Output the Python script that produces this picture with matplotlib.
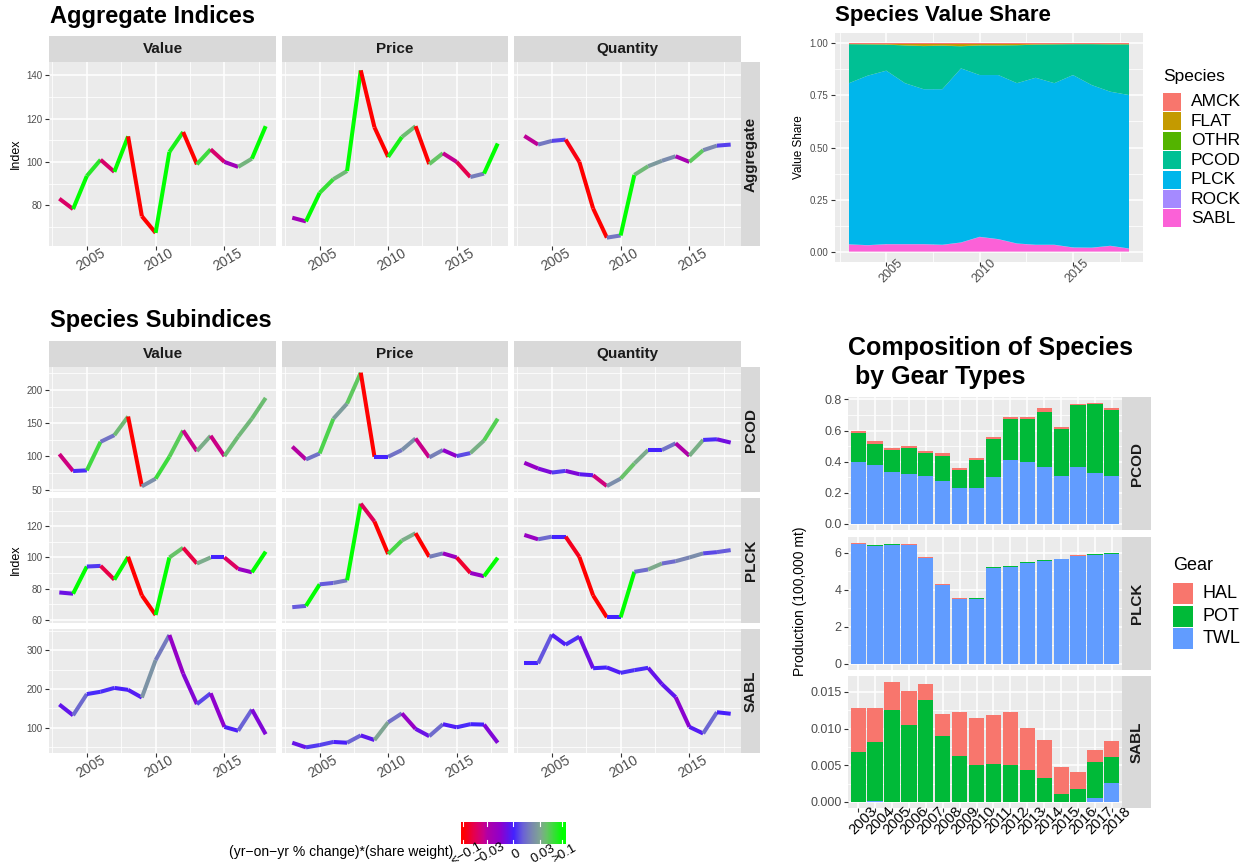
import numpy as np
import matplotlib
matplotlib.use("Agg")
import matplotlib.pyplot as plt
from matplotlib.collections import LineCollection
from matplotlib.patches import Rectangle
from matplotlib.colors import to_rgb
from matplotlib.ticker import FixedLocator

plt.rcParams['font.family'] = ['Liberation Sans', 'DejaVu Sans']

# ---- data ----
years = [2003, 2004, 2005, 2006, 2007, 2008, 2009, 2010,
         2011, 2012, 2013, 2014, 2015, 2016, 2017, 2018]

agg_value = [83, 78.2, 93.5, 101, 95.4, 111.8, 74.9, 67.2, 104.6, 113.8, 98.9, 105.8, 100, 97.7, 101.5, 116.5]
agg_price = [74.2, 72.5, 85.7, 92, 95.8, 142.3, 116, 102.3, 111.5, 116.5, 99, 104, 100, 93, 94.6, 108.5]
agg_quantity = [112, 108, 109.7, 110.3, 100, 78.5, 65, 66, 94, 98, 100.5, 102.6, 100, 105.4, 107.5, 108]

pcod_value = [103.5, 78, 79, 122, 132, 160, 55, 66.5, 99.5, 139, 108, 131, 100.5, 130, 157, 188]
pcod_price = [114.7, 95.4, 104.5, 156.7, 179.5, 226, 99.5, 99.5, 109.6, 127, 98.5, 109.6, 100.5, 105, 124, 156.7]
pcod_quantity = [90.4, 81.8, 75.7, 78.2, 73.2, 71.6, 55.4, 66.6, 89.4, 109.6, 109.6, 119.7, 101, 124.8, 125.8, 120.8]

plck_value = [77.6, 76.8, 94.2, 94.6, 85.8, 100.4, 75.7, 63.2, 100, 106.2, 96.1, 100, 100, 92.7, 90.5, 103.7]
plck_price = [68.2, 69, 82.8, 83.7, 85.4, 134.4, 123, 102.2, 110.8, 115.5, 100.4, 102.6, 100, 90.1, 88, 99.8]
plck_quantity = [114.4, 111.6, 113.3, 113.3, 100.4, 75.7, 61.7, 61.7, 90.8, 92.3, 96.1, 97.6, 100, 102.6, 103.4, 104.7]

sabl_value = [160, 132, 187, 193, 203, 198, 178, 275, 340, 240, 161, 189, 102, 92, 147, 83]
sabl_price = [61, 49, 55, 63, 61, 80, 68, 114, 137, 97, 78, 109, 101, 109, 108, 61]
sabl_quantity = [266.5, 266.5, 341, 315, 336, 254, 256, 242, 249, 255, 213, 179, 102, 85, 140, 136]

# value shares
share_sabl = [0.034, 0.030, 0.035, 0.035, 0.035, 0.032, 0.043, 0.070, 0.059, 0.038, 0.032, 0.032, 0.019, 0.018, 0.027, 0.014]
share_rock = [0.001, 0.001, 0.001, 0.001, 0.001, 0.001, 0.001, 0.001, 0.001, 0.001, 0.001, 0.001, 0.001, 0.001, 0.001, 0.001]
share_plck = [0.774, 0.814, 0.833, 0.773, 0.744, 0.747, 0.836, 0.777, 0.788, 0.770, 0.802, 0.776, 0.828, 0.781, 0.740, 0.737]
share_pcod = [0.187, 0.150, 0.125, 0.181, 0.207, 0.209, 0.106, 0.142, 0.142, 0.182, 0.159, 0.186, 0.148, 0.196, 0.227, 0.243]
share_othr = [0.001, 0.001, 0.001, 0.001, 0.001, 0.001, 0.001, 0.001, 0.001, 0.001, 0.001, 0.001, 0.001, 0.001, 0.001, 0.001]
share_flat = [0.002, 0.003, 0.004, 0.008, 0.011, 0.009, 0.012, 0.008, 0.008, 0.007, 0.004, 0.003, 0.002, 0.002, 0.003, 0.003]
share_amck = [0.001, 0.001, 0.001, 0.001, 0.001, 0.001, 0.001, 0.001, 0.001, 0.001, 0.001, 0.001, 0.001, 0.001, 0.001, 0.001]

# production by gear (100,000 mt)
pcod_twl = [0.397, 0.376, 0.337, 0.324, 0.307, 0.279, 0.234, 0.234, 0.300, 0.414, 0.401, 0.363, 0.311, 0.369, 0.330, 0.305]
pcod_pot = [0.185, 0.141, 0.137, 0.163, 0.146, 0.157, 0.111, 0.176, 0.249, 0.258, 0.271, 0.356, 0.296, 0.393, 0.440, 0.425]
pcod_hal = [0.015, 0.013, 0.013, 0.011, 0.013, 0.017, 0.013, 0.013, 0.013, 0.013, 0.013, 0.026, 0.013, 0.006, 0.007, 0.015]
plck_twl = [6.48, 6.38, 6.43, 6.39, 5.72, 4.24, 3.48, 3.50, 5.18, 5.22, 5.46, 5.55, 5.65, 5.83, 5.88, 5.94]
plck_pot = [0.01, 0.03, 0.03, 0.02, 0.01, 0.01, 0.01, 0.04, 0.03, 0.04, 0.03, 0.03, 0.03, 0.01, 0.04, 0.04]
plck_hal = [0.03, 0.00, 0.00, 0.04, 0.03, 0.05, 0.05, 0.00, 0.00, 0.00, 0.00, 0.00, 0.00, 0.03, 0.00, 0.00]
sabl_twl = [0.0, 0.0002, 0.0, 0.0, 0.00003, 0.00005, 0.00005, 0.00005, 0.00005, 0.00003, 0.00003, 0.00003, 0.00003, 0.00003, 0.00055, 0.0026]
sabl_pot = [0.00682, 0.00798, 0.01255, 0.0105, 0.01388, 0.00895, 0.00622, 0.005, 0.00513, 0.00502, 0.00433, 0.00324, 0.00106, 0.00174, 0.0049, 0.00354]
sabl_hal = [0.006, 0.00464, 0.00381, 0.00464, 0.00218, 0.003, 0.006, 0.0064, 0.00668, 0.00722, 0.00573, 0.00518, 0.00368, 0.00232, 0.00164, 0.00218]

species_names = ['AMCK', 'FLAT', 'OTHR', 'PCOD', 'PLCK', 'ROCK', 'SABL']
species_colors = ['#F8766D', '#C49A00', '#53B400', '#00C094', '#00B6EB', '#A58AFF', '#FB61D7']
gear_names = ['HAL', 'POT', 'TWL']
gear_colors = ['#F8766D', '#00BA38', '#619CFF']

# colour scale for (yr-on-yr % change)*(share weight)
chg_nodes = [-0.1, -0.07, -0.04, -0.015, 0.0, 0.01, 0.02, 0.03, 0.05, 0.1]
chg_cols = ['#FF0000', '#E6004C', '#C8008C', '#9000CC', '#4422FF',
            '#6A60D8', '#7A88B0', '#7FA890', '#66C466', '#00FF00']
bar_pos = [0.0, 0.022, 0.247, 0.503, 0.76, 0.968, 1.0]
bar_val = [-0.105, -0.1, -0.03, 0.0, 0.03, 0.1, 0.105]
bar_ticks = [-0.1, -0.03, 0.0, 0.03, 0.1]
bar_labels = ['<\u22120.1', '\u22120.03', '0', '0.03', '>0.1']

PANEL_BG = '#EBEBEB'
STRIP_BG = '#D9D9D9'
TICK_COL = '#4D4D4D'

W, H = 1255, 867
fig = plt.figure(figsize=(W / 100, H / 100), dpi=100)

rgb_nodes = np.array([to_rgb(c) for c in chg_cols])


def chg_color(v):
    v = np.clip(np.asarray(v, float), -0.1, 0.1)
    return np.stack([np.interp(v, chg_nodes, rgb_nodes[:, k]) for k in range(3)], axis=-1)


def seg_change(series, weight):
    y = np.asarray(series, float)
    return (y[1:] - y[:-1]) / y[:-1] * np.asarray(weight, float)[:-1]


def box(x0, y0, x1, y1):
    return fig.add_axes([x0 / W, 1 - y1 / H, (x1 - x0) / W, (y1 - y0) / H])


def ftext(x, y, s, **kw):
    fig.text(x / W, 1 - y / H, s, **kw)


def gg_style(ax):
    ax.set_facecolor(PANEL_BG)
    for s in ax.spines.values():
        s.set_visible(False)
    ax.grid(True, which='major', color='white', lw=1.1)
    ax.grid(True, which='minor', color='white', lw=0.55)
    ax.set_axisbelow(True)
    ax.tick_params(which='major', length=2.75, width=0.8, color='#333333',
                   labelsize=7, labelcolor=TICK_COL, pad=2)
    ax.tick_params(which='minor', length=0)


def strip(x0, y0, x1, y1, label, rot=0):
    a = box(x0, y0, x1, y1)
    a.set_facecolor(STRIP_BG)
    a.set_xticks([])
    a.set_yticks([])
    for s in a.spines.values():
        s.set_visible(False)
    a.text(0.5, 0.5, label, rotation=rot, ha='center', va='center', fontsize=11,
           fontweight='bold', color='#1A1A1A', transform=a.transAxes)


def row_limits(*series):
    lo = min(min(s) for s in series)
    hi = max(max(s) for s in series)
    pad = 0.05 * (hi - lo)
    return lo - pad, hi + pad


def line_panel(ax, series, weight, ylim, yticks, yminor, show_x, show_y):
    gg_style(ax)
    pts = np.column_stack([years, series]).astype(float).reshape(-1, 1, 2)
    segs = np.concatenate([pts[:-1], pts[1:]], axis=1)
    lc = LineCollection(segs, colors=chg_color(seg_change(series, weight)),
                        linewidths=2.9, capstyle='butt')
    ax.add_collection(lc)
    ax.set_xlim(2002.25, 2018.75)
    ax.set_ylim(*ylim)
    ax.xaxis.set_major_locator(FixedLocator([2005, 2010, 2015]))
    ax.xaxis.set_minor_locator(FixedLocator([2002.5, 2007.5, 2012.5, 2017.5]))
    ax.yaxis.set_major_locator(FixedLocator(yticks))
    ax.yaxis.set_minor_locator(FixedLocator(yminor))
    if show_x:
        ax.set_xticklabels(['2005', '2010', '2015'], rotation=30, rotation_mode='anchor',
                           ha='center', va='top', fontsize=10)
        ax.tick_params(axis='x', pad=3)
    else:
        ax.tick_params(axis='x', length=0, labelbottom=False)
    if not show_y:
        ax.tick_params(axis='y', length=0, labelleft=False)


cols_x = [(49, 276), (282, 508), (514, 741)]
ones = [1.0] * len(years)

# ---- Aggregate Indices ----
ftext(50, 17, 'Aggregate Indices', fontsize=17, fontweight='bold', va='center')
for (x0, x1), name in zip(cols_x, ['Value', 'Price', 'Quantity']):
    strip(x0, 36, x1, 62, name)
strip(741, 62, 760, 246, 'Aggregate', rot=90)
agg_lim = row_limits(agg_value, agg_price, agg_quantity)
for i, ser in enumerate([agg_value, agg_price, agg_quantity]):
    ax = box(cols_x[i][0], 62, cols_x[i][1], 246)
    line_panel(ax, ser, ones, agg_lim, [80, 100, 120, 140], [70, 90, 110, 130],
               True, i == 0)
ftext(16, 154, 'Index', fontsize=9, rotation=90, ha='center', va='center')

# ---- Species Subindices ----
ftext(50, 321, 'Species Subindices', fontsize=17, fontweight='bold', va='center')
for (x0, x1), name in zip(cols_x, ['Value', 'Price', 'Quantity']):
    strip(x0, 341, x1, 367, name)
rows = [
    ('PCOD', (367, 492), [pcod_value, pcod_price, pcod_quantity], share_pcod,
     [50, 100, 150, 200], [75, 125, 175, 225]),
    ('PLCK', (498, 623), [plck_value, plck_price, plck_quantity], share_plck,
     [60, 80, 100, 120], [70, 90, 110, 130]),
    ('SABL', (629, 753), [sabl_value, sabl_price, sabl_quantity], share_sabl,
     [100, 200, 300], [50, 150, 250, 350]),
]
for r, (sp, (y0, y1), sers, wt, yt, ym) in enumerate(rows):
    lim = row_limits(*sers)
    for i, ser in enumerate(sers):
        ax = box(cols_x[i][0], y0, cols_x[i][1], y1)
        line_panel(ax, ser, wt, lim, yt, ym, r == 2, i == 0)
    strip(741, y0, 760, y1, sp, rot=90)
ftext(16, 560, 'Index', fontsize=9, rotation=90, ha='center', va='center')

# ---- colour bar ----
cax = box(461, 822, 565, 844)
pos = np.linspace(0, 1, 300)
grad = chg_color(np.interp(pos, bar_pos, bar_val))[None, :, :]
cax.imshow(grad, aspect='auto', extent=[0, 1, 0, 1])
cax.set_xlim(0, 1)
cax.set_ylim(0, 1)
cax.axis('off')
for t in bar_ticks:
    p = np.interp(t, bar_val, bar_pos)
    cax.plot([p, p], [0, 0.2], color='white', lw=0.8)
    cax.plot([p, p], [0.8, 1], color='white', lw=0.8)
    ftext(461 + p * 104, 849, bar_labels[bar_ticks.index(t)], fontsize=9.5,
          rotation=30, rotation_mode='anchor', ha='center', va='top')
ftext(453, 852, '(yr\u2212on\u2212yr % change)*(share weight)', fontsize=10,
      ha='right', va='center')

# ---- Species Value Share ----
ftext(835, 15, 'Species Value Share', fontsize=16, fontweight='bold', va='center')
ax = box(835, 33, 1143, 262)
gg_style(ax)
stack_order = [share_sabl, share_rock, share_plck, share_pcod, share_othr, share_flat, share_amck]
stack_cols = [species_colors[6], species_colors[5], species_colors[4], species_colors[3],
              species_colors[2], species_colors[1], species_colors[0]]
ax.stackplot(years, *stack_order, colors=stack_cols, lw=0)
ax.set_xlim(2002.25, 2018.75)
ax.set_ylim(-0.05, 1.05)
ax.xaxis.set_major_locator(FixedLocator([2005, 2010, 2015]))
ax.xaxis.set_minor_locator(FixedLocator([2002.5, 2007.5, 2012.5, 2017.5]))
ax.yaxis.set_major_locator(FixedLocator([0, 0.25, 0.5, 0.75, 1.0]))
ax.yaxis.set_minor_locator(FixedLocator([0.125, 0.375, 0.625, 0.875]))
ax.set_yticklabels(['0.00', '0.25', '0.50', '0.75', '1.00'])
ax.set_xticklabels(['2005', '2010', '2015'], rotation=45, rotation_mode='anchor',
                   ha='center', va='top', fontsize=9)
ax.tick_params(axis='x', pad=1)
ftext(799, 147, 'Value Share', fontsize=8.5, rotation=90, ha='center', va='center')

ftext(1163, 76, 'Species', fontsize=12.5, va='center')
for k, (nm, c) in enumerate(zip(species_names, species_colors)):
    top = 93 + k * 19.4
    fig.add_artist(Rectangle((1163 / W, 1 - (top + 18) / H), 18 / W, 18 / H,
                             transform=fig.transFigure, facecolor=c, edgecolor='none'))
    ftext(1191, top + 9, nm, fontsize=12.5, va='center')

# ---- Composition of Species by Gear Types ----
ftext(848, 348, 'Composition of Species', fontsize=18, fontweight='bold', va='center')
ftext(848, 377, ' by Gear Types', fontsize=18, fontweight='bold', va='center')
comp_rows = [
    ('PCOD', (397, 530), pcod_twl, pcod_pot, pcod_hal,
     [0, 0.2, 0.4, 0.6, 0.8], [0.1, 0.3, 0.5, 0.7], '%.1f'),
    ('PLCK', (537, 670), plck_twl, plck_pot, plck_hal,
     [0, 2, 4, 6], [1, 3, 5], '%d'),
    ('SABL', (676, 808), sabl_twl, sabl_pot, sabl_hal,
     [0, 0.005, 0.010, 0.015], [0.0025, 0.0075, 0.0125], '%.3f'),
]
xi = np.arange(len(years))
for r, (sp, (y0, y1), twl, pot, hal, yt, ym, fmt) in enumerate(comp_rows):
    ax = box(848, y0, 1122, y1)
    gg_style(ax)
    twl = np.array(twl)
    pot = np.array(pot)
    hal = np.array(hal)
    ax.bar(xi, twl, width=0.9, color=gear_colors[2], lw=0)
    ax.bar(xi, pot, width=0.9, bottom=twl, color=gear_colors[1], lw=0)
    ax.bar(xi, hal, width=0.9, bottom=twl + pot, color=gear_colors[0], lw=0)
    total = (twl + pot + hal).max()
    ax.set_ylim(-0.05 * total, 1.05 * total)
    ax.set_xlim(-0.6, len(years) - 0.4)
    ax.xaxis.set_major_locator(FixedLocator(list(xi)))
    ax.yaxis.set_major_locator(FixedLocator(yt))
    ax.yaxis.set_minor_locator(FixedLocator(ym))
    ax.set_yticklabels([fmt % v for v in yt])
    ax.tick_params(axis='y', labelsize=9)
    if r == 2:
        ax.set_xticklabels([str(y) for y in years], rotation=45, rotation_mode='anchor',
                           ha='center', va='top', fontsize=10.5, color='black')
        ax.tick_params(axis='x', pad=2.5, labelcolor='black')
    else:
        ax.tick_params(axis='x', length=0, labelbottom=False)
    strip(1122, y0, 1151, y1, sp, rot=90)
    for t in ax.get_yticklabels():
        t.set_fontsize(9)
ftext(800, 601, 'Production (100,000 mt)', fontsize=10, rotation=90, ha='center', va='center')

ftext(1173, 566, 'Gear', fontsize=13, va='center')
for k, (nm, c) in enumerate(zip(gear_names, gear_colors)):
    top = 583 + k * 22.7
    fig.add_artist(Rectangle((1173 / W, 1 - (top + 21) / H), 20 / W, 21 / H,
                             transform=fig.transFigure, facecolor=c, edgecolor='none'))
    ftext(1203, top + 10.5, nm, fontsize=13, va='center')

fig.savefig('out.png', dpi=100)
